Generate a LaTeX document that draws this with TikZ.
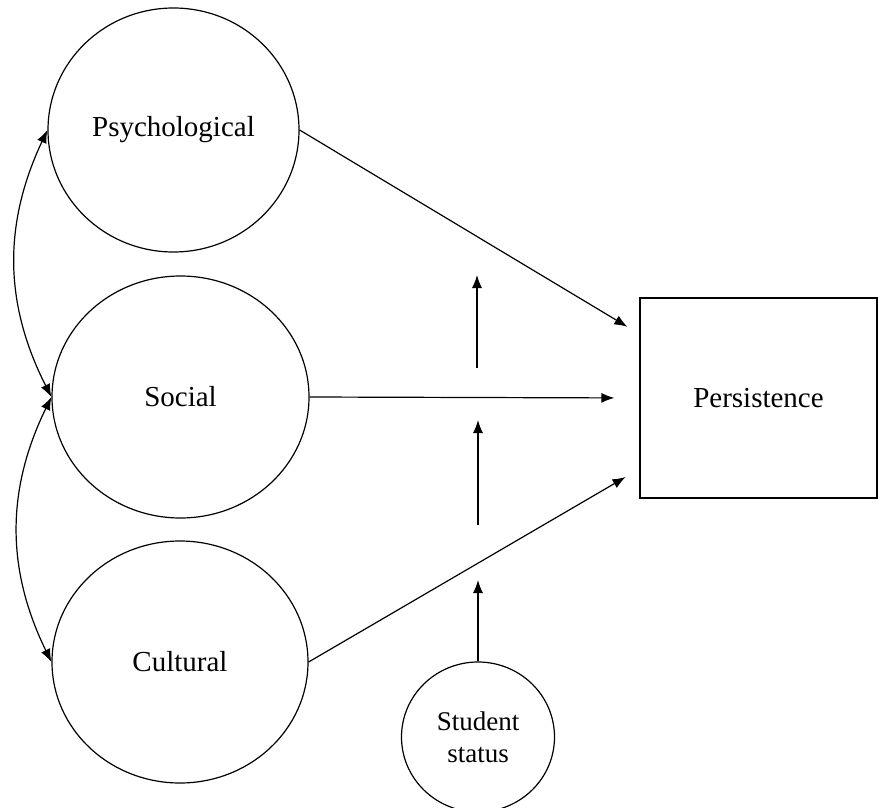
\documentclass[tikz,border=0pt]{standalone}
\usepackage{fontspec}
\setmainfont{Liberation Serif}
\usetikzlibrary{shapes.geometric,arrows.meta}

\begin{document}
\begin{tikzpicture}[x=0.5pt,y=-0.5pt,line width=0.6pt,>={Latex[length=6.5pt,width=5pt]},
		factor/.style={draw,ellipse,inner sep=0pt,font=\fontsize{14.5}{17}\selectfont},
		outcome/.style={draw,rectangle,minimum width=118.5pt,minimum height=100pt,font=\fontsize{14.5}{17}\selectfont}]
		\useasboundingbox (0,0) rectangle (878,808);
		% Latent factors and outcome
		\node[factor,minimum width=125.5pt,minimum height=122pt] (psych) at (173.5,130) {Psychological};
		\node[factor,minimum width=128.5pt,minimum height=121pt] (social) at (180.5,397) {Social};
		\node[factor,minimum width=128pt,minimum height=121pt] (cultural) at (180,662) {Cultural};
		\node[outcome] (persist) at (758.5,398) {Persistence};
		\node[factor,minimum width=76.5pt,minimum height=75pt,align=center,font=\fontsize{13.5}{16}\selectfont] (status) at (478,737) {Student\\status};
		
		% Free ends of the moderation arrows
		\coordinate (modA) at (478,580);
		\coordinate (modB1) at (478,525);
		\coordinate (modB2) at (478,420);
		\coordinate (modC1) at (477,368);
		\coordinate (modC2) at (477,275);
		
		% Paths to persistence
		\draw[->,shorten >=7pt] (psych.east) -- ([yshift=32pt]persist.west);
		\draw[->,shorten >=12.5pt] (social.east) -- (persist.west);
		\draw[->,shorten >=8pt] (cultural.east) -- ([yshift=-35.5pt]persist.west);
		
		% Moderation by student status
		\draw[->] (status.north) -- (modA);
		\draw[->] (modB1) -- (modB2);
		\draw[->] (modC1) -- (modC2);
		
		% Correlations
		\draw[<->] (psych.west) to[bend right=26] (social.west);
		\draw[<->] (social.west) to[bend right=26] (cultural.west);
	\end{tikzpicture}
\end{document}
